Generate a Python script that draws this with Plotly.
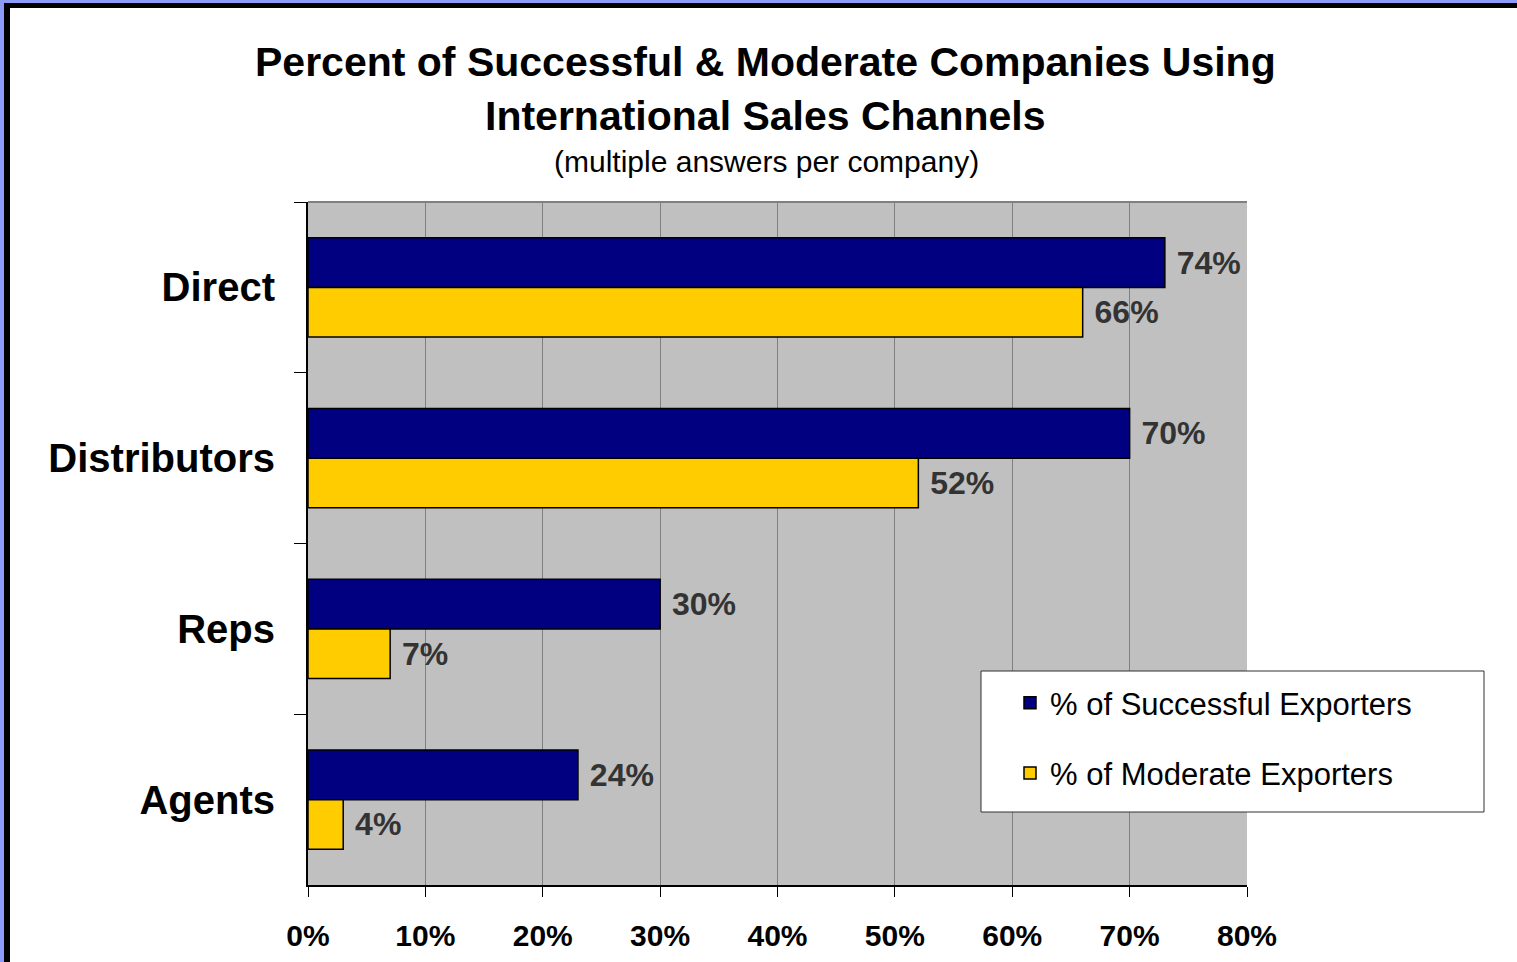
import plotly.graph_objects as go

# chart data
channels = ["Direct", "Distributors", "Reps", "Agents"]
successful = [73, 70, 30, 23]
moderate = [66, 52, 7, 3]
successful_labels = ["74%", "70%", "30%", "24%"]
moderate_labels = ["66%", "52%", "7%", "4%"]
x_ticks = [0, 10, 20, 30, 40, 50, 60, 70, 80]
x_tick_labels = ["0%", "10%", "20%", "30%", "40%", "50%", "60%", "70%", "80%"]

W, H = 1517, 962
L, R, T, B = 308, 1247, 202, 885
FONT = "Arial, Liberation Sans, sans-serif"


def px(x):
    return (x - L) / (R - L)


def py(y):
    return (B - y) / (B - T)


fig = go.Figure()
fig.add_trace(go.Bar(
    y=channels, x=successful, orientation="h",
    name="% of Successful Exporters", legendgroup="s",
    marker=dict(color="#000080", line=dict(color="black", width=1.5)),
    text=successful_labels, texttemplate="\u00a0%{text}",
    textposition="outside", constraintext="none", cliponaxis=False,
    textfont=dict(family=FONT, size=32, color="#333333", weight="bold"),
))
fig.add_trace(go.Bar(
    y=channels, x=moderate, orientation="h",
    name="% of Moderate Exporters", legendgroup="m",
    marker=dict(color="#FFCC00", line=dict(color="black", width=1.5)),
    text=moderate_labels, texttemplate="\u00a0%{text}",
    textposition="outside", constraintext="none", cliponaxis=False,
    textfont=dict(family=FONT, size=32, color="#333333", weight="bold"),
))

shapes = [
    # legend box
    dict(type="rect", xref="paper", yref="paper", x0=px(981), x1=px(1484),
         y0=py(812), y1=py(671), fillcolor="white",
         line=dict(color="#333333", width=1), layer="above"),
    # top border of plot area
    dict(type="line", xref="paper", yref="paper", x0=0, x1=1, y0=1, y1=1,
         line=dict(color="#808080", width=2)),
    # window frame: blue and black strips on top and left
    dict(type="rect", xref="paper", yref="paper", x0=px(0), x1=px(4),
         y0=py(H + 5), y1=py(-5), fillcolor="#8C9CF6", line_width=0),
    dict(type="rect", xref="paper", yref="paper", x0=px(-5), x1=px(W + 5),
         y0=py(3), y1=py(-5), fillcolor="#8C9CF6", line_width=0),
    dict(type="rect", xref="paper", yref="paper", x0=px(4), x1=px(10),
         y0=py(H + 5), y1=py(3), fillcolor="black", line_width=0),
    dict(type="rect", xref="paper", yref="paper", x0=px(4), x1=px(W + 5),
         y0=py(8), y1=py(3), fillcolor="black", line_width=0),
]

annotations = [
    dict(text="<b>Percent of Successful & Moderate Companies Using</b>",
         x=px(765), y=py(62), font=dict(size=41)),
    dict(text="<b>International Sales Channels</b>",
         x=px(765), y=py(116), font=dict(size=41)),
    dict(text="(multiple answers per company)",
         x=px(766), y=py(161), font=dict(size=30)),
]
for a in annotations:
    a.update(xref="paper", yref="paper", showarrow=False,
             xanchor="center", yanchor="middle")
    a["font"].update(family=FONT, color="black")

fig.update_layout(
    width=W, height=H,
    margin=dict(l=L, r=W - R, t=T, b=H - B, pad=0),
    paper_bgcolor="white",
    plot_bgcolor="#C0C0C0",
    barmode="group",
    bargap=0.42,
    bargroupgap=0,
    font=dict(family=FONT, color="black"),
    shapes=shapes,
    annotations=annotations,
    legend=dict(
        x=px(1010), y=py(676), xanchor="left", yanchor="top",
        bgcolor="rgba(0,0,0,0)", borderwidth=0,
        font=dict(family=FONT, size=31, color="black"),
        traceorder="grouped", tracegroupgap=27,
    ),
    xaxis=dict(
        range=[0, 80], tickvals=x_ticks, ticktext=x_tick_labels,
        showgrid=True, gridcolor="#808080", gridwidth=1,
        zeroline=False, automargin=False,
        showline=True, linecolor="black", linewidth=2,
        ticks="outside", ticklen=10, tickcolor="black", tickwidth=1,
        tickfont=dict(family=FONT, size=30, color="black", weight="bold"),
        ticklabelstandoff=13,
    ),
    yaxis=dict(
        type="category", autorange="reversed",
        showgrid=False, zeroline=False, automargin=False,
        showline=True, linecolor="black", linewidth=2,
        ticks="outside", ticklen=12, tickcolor="black", tickwidth=1,
        tickson="boundaries",
        tickfont=dict(family=FONT, size=40, color="black", weight="bold"),
        ticklabelstandoff=23,
    ),
)

fig.write_html("out.html", config={"displayModeBar": False},
               post_script="document.body.style.margin='0';")
